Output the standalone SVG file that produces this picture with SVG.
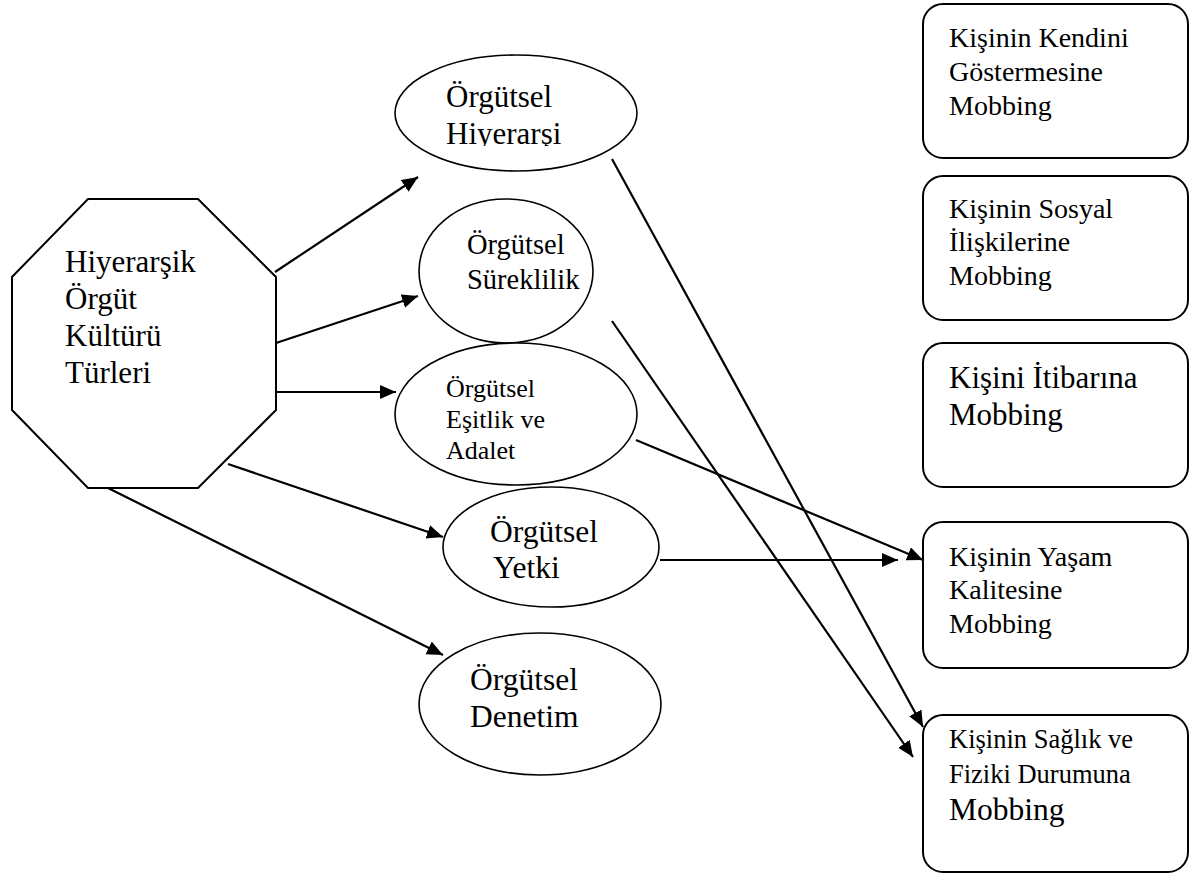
<svg xmlns="http://www.w3.org/2000/svg" width="1200" height="875" viewBox="0 0 1200 875">
<style>
.shape{fill:#fff;stroke:#000;stroke-width:2}
.ell{fill:#fff;stroke:#000;stroke-width:1.6}
.conn line{stroke:#000;stroke-width:2.2;marker-end:url(#ah)}
</style>
<defs>
<marker id="ah" markerUnits="userSpaceOnUse" markerWidth="18" markerHeight="16" refX="16" refY="7" orient="auto">
<path d="M0,0 L16,7 L0,14 z" fill="#000"/>
</marker>
<clipPath id="clipHiy"><rect x="0" y="0" width="1200" height="146"/></clipPath>
</defs>
<rect width="1200" height="875" fill="#fff"/>

<g font-family="'Liberation Serif', 'DejaVu Serif', serif" fill="#000">
<g id="node-hiyerarsik">
<polygon class="shape" points="88,199 198,199 276,277 276,410 198,488 88,488 12,410 12,277"/>
<text font-size="31" x="65" y="272">Hiyerarşik</text>
<text font-size="31" x="65" y="309">Örgüt</text>
<text font-size="31" x="65" y="346">Kültürü</text>
<text font-size="31" x="65" y="383">Türleri</text>
</g>

<g id="node-hiyerarsi">
<ellipse class="ell" cx="516" cy="113" rx="121" ry="58"/>
<text font-size="31" x="446" y="107">Örgütsel</text>
<text font-size="31" x="446" y="144" clip-path="url(#clipHiy)">Hiyerarşi</text>
</g>

<g id="node-sureklilik">
<ellipse class="ell" cx="506" cy="271" rx="87" ry="72"/>
<text font-size="28.5" x="467" y="254">Örgütsel</text>
<text font-size="28.5" x="467" y="289">Süreklilik</text>
</g>

<g id="node-esitlik">
<ellipse class="ell" cx="516" cy="414" rx="121" ry="71"/>
<text font-size="26" x="446" y="397">Örgütsel</text>
<text font-size="26" x="446" y="428">Eşitlik ve</text>
<text font-size="26" x="446" y="459">Adalet</text>
</g>

<g id="node-yetki">
<ellipse class="ell" cx="551" cy="547" rx="108" ry="60"/>
<text font-size="31.5" x="490" y="542">Örgütsel</text>
<text font-size="31.5" x="493" y="578">Yetki</text>
</g>

<g id="node-denetim">
<ellipse class="ell" cx="540" cy="704" rx="121" ry="71"/>
<text font-size="31.5" x="470" y="690">Örgütsel</text>
<text font-size="31.5" x="470" y="727">Denetim</text>
</g>

<g id="node-kendini">
<rect class="shape" x="923" y="4" width="265" height="154" rx="20"/>
<text font-size="28" x="949" y="47">Kişinin Kendini</text>
<text font-size="28" x="949" y="81">Göstermesine</text>
<text font-size="28" x="949" y="115">Mobbing</text>
</g>

<g id="node-sosyal">
<rect class="shape" x="923" y="176" width="265" height="144" rx="20"/>
<text font-size="28" x="949" y="218">Kişinin Sosyal</text>
<text font-size="28" x="949" y="251">İlişkilerine</text>
<text font-size="28" x="949" y="285">Mobbing</text>
</g>

<g id="node-itibar">
<rect class="shape" x="923" y="343" width="265" height="144" rx="20"/>
<text font-size="31" x="949" y="388">Kişini İtibarına</text>
<text font-size="31" x="949" y="425">Mobbing</text>
</g>

<g id="node-yasam">
<rect class="shape" x="923" y="522" width="265" height="146" rx="20"/>
<text font-size="28" x="949" y="566">Kişinin Yaşam</text>
<text font-size="28" x="949" y="599">Kalitesine</text>
<text font-size="28" x="949" y="633">Mobbing</text>
</g>

<g id="node-saglik">
<rect class="shape" x="923" y="715" width="265" height="157" rx="20"/>
<text font-size="26.5" x="949" y="748">Kişinin Sağlık ve</text>
<text font-size="26.5" x="949" y="783">Fiziki Durumuna</text>
<text font-size="31.5" x="949" y="820">Mobbing</text>
</g>
</g>

<g id="connectors" class="conn">
<line x1="275" y1="272" x2="418" y2="177"/>
<line x1="276" y1="343" x2="418" y2="296"/>
<line x1="276" y1="392" x2="396" y2="392"/>
<line x1="228" y1="464" x2="443" y2="537"/>
<line x1="108" y1="488" x2="443" y2="655"/>
<line x1="612" y1="159" x2="923" y2="727"/>
<line x1="612" y1="321" x2="913" y2="757"/>
<line x1="636" y1="440" x2="923" y2="560"/>
<line x1="660" y1="560" x2="898" y2="560"/>
</g>
</svg>
